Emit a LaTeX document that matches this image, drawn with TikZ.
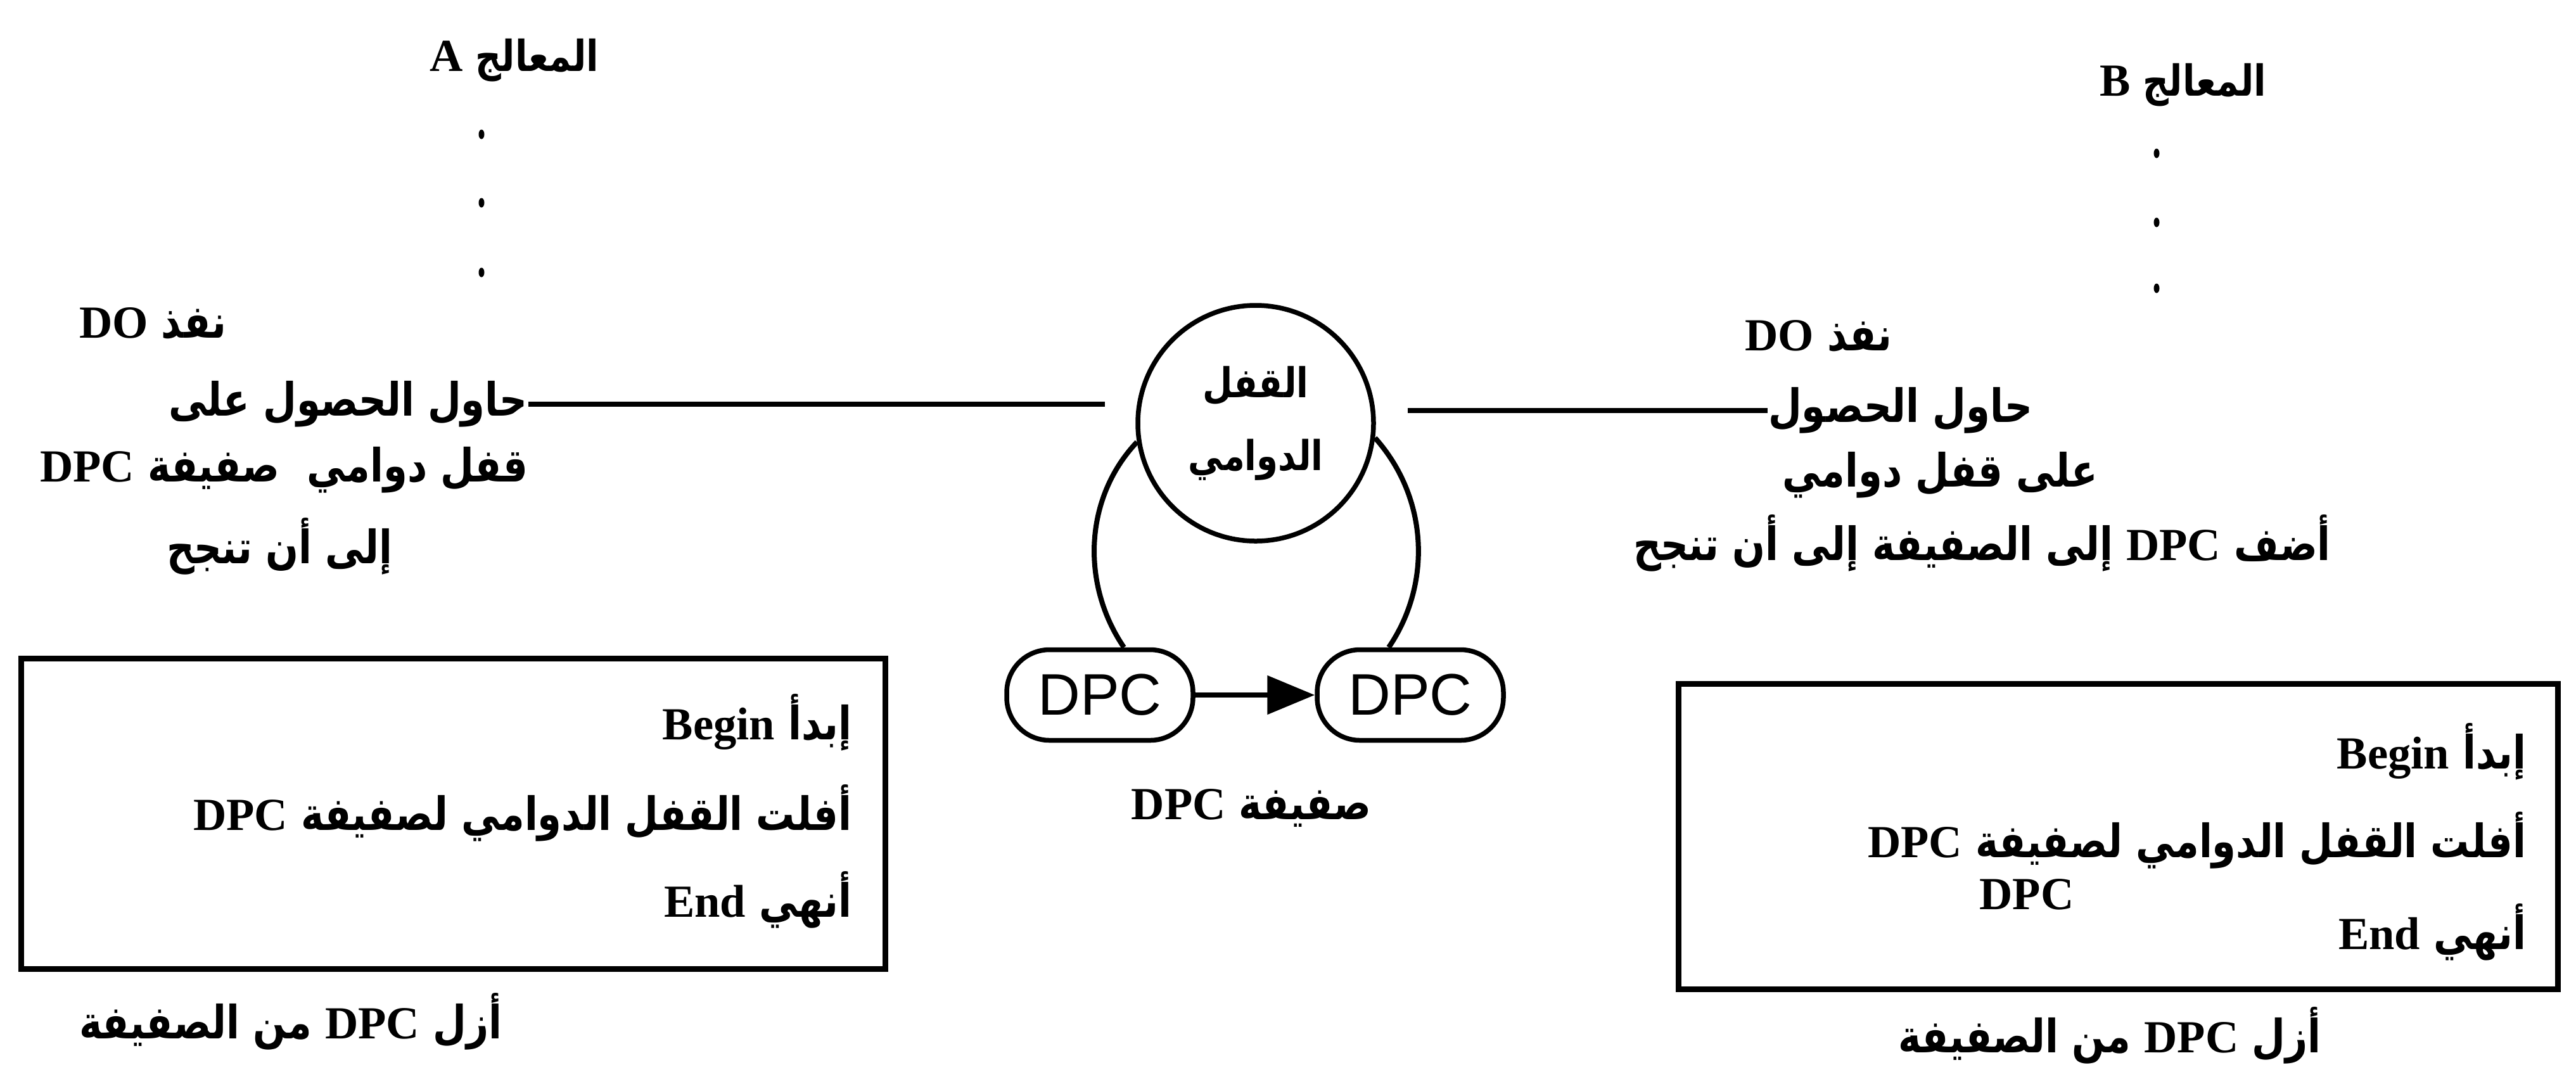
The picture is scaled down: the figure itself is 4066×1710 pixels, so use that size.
\documentclass[tikz,border=0pt]{standalone}
\usepackage{fontspec}
\usetikzlibrary{arrows.meta,shapes.geometric}

\newfontfamily\arabicfont[Script=Arabic,FakeStretch=0.84]{DejaVu Sans}
\newfontfamily\latinfont{Liberation Serif}
\newfontfamily\dpcfont{Liberation Sans}
\TeXXeTstate=1

\newcommand{\rtl}[1]{\beginR #1\endR}
\newcommand{\lat}[1]{{\latinfont\fontsize{14.5}{17}\selectfont #1}}

\tikzset{
	txt/.style={inner sep=0pt, font=\arabicfont\bfseries\fontsize{14.5}{17}\selectfont},
	head/.style={inner sep=0pt, font=\arabicfont\bfseries\fontsize{13.5}{15}\selectfont},
	dotmark/.style={ellipse, fill=black, inner sep=0pt, minimum width=1.8pt, minimum height=3pt},
	link/.style={line width=1.6pt},
	lockcirc/.style={draw, circle, line width=1.5pt, minimum size=74.4pt, inner sep=0pt, align=center,
		font=\arabicfont\bfseries\fontsize{13}{23}\selectfont},
	dpcbox/.style={draw, rounded corners=13.5pt, line width=1.5pt, minimum width=58.8pt, minimum height=28.6pt,
		inner sep=0pt, font=\dpcfont\fontsize{18.5}{20}\selectfont},
	codebox/.style={draw, line width=1.8pt, inner sep=0pt, anchor=north west}
}

\begin{document}
\begin{tikzpicture}[x=0.2pt,y=0.2pt,yscale=-1,xscale=1]

	\useasboundingbox (0,0) rectangle (4066,1710);

	%%PROCESSOR A---------------------------------------------
	\node[head] (procA) at (812,95) {\rtl{المعالج {\fontsize{12.5}{15}\lat{A}}}};
	\node[dotmark] (dotA1) at (760,212) {};
	\node[dotmark] (dotA2) at (760,320) {};
	\node[dotmark] (dotA3) at (760,430) {};

	%% do loop text
	\node[txt, anchor=west] (doA) at (124,510) {\rtl{نفذ \lat{DO}}};
	\node[txt, anchor=west] (tryA) at (265,638) {\rtl{حاول الحصول على}};
	\node[txt, anchor=west] (spinA) at (62,742) {\rtl{قفل دوامي\hspace{0.6em}صفيفة \lat{DPC}}};
	\node[txt, anchor=west] (untilA) at (262,862) {\rtl{إلى أن تنجح}};

	%% routine box
	\node[codebox, minimum width=272.8pt, minimum height=98pt] (boxA) at (29,1035) {};
	\node[txt, anchor=east] (beginA) at (1345,1140) {\rtl{إبدأ \lat{Begin}}};
	\node[txt, anchor=east] (releaseA) at (1345,1283) {\rtl{أفلت القفل الدوامي لصفيفة \lat{DPC}}};
	\node[txt, anchor=east] (endA) at (1345,1420) {\rtl{أنهي \lat{End}}};
	\node[txt, anchor=west] (removeA) at (124,1612) {\rtl{أزل \lat{DPC} من الصفيفة}};

	%%SPIN LOCK AND QUEUE-------------------------------------
	\node[lockcirc] (lock) at (1982,668) {\rtl{القفل}\\\rtl{الدوامي}};
	\node[dpcbox] (dpcL) at (1736,1097) {DPC};
	\node[dpcbox] (dpcR) at (2226,1097) {DPC};
	\node[txt] (queue) at (1975,1275) {\rtl{صفيفة \lat{DPC}}};

	%% loop from lock to queue
	\draw[link] (lock.189) .. controls (1711,786) and (1706,922) .. ([xshift=7.6pt]dpcL.north);
	\draw[link] (lock.353) .. controls (2255,786) and (2260,922) .. ([xshift=-6.8pt]dpcR.north);
	\draw[link, -{Triangle[length=15pt,width=12pt]}] (dpcL.east) -- (dpcR.west);

	%%PROCESSOR B---------------------------------------------
	\node[head] (procB) at (3446,134) {\rtl{المعالج {\fontsize{12.5}{15}\lat{B}}}};
	\node[dotmark] (dotB1) at (3404,242) {};
	\node[dotmark] (dotB2) at (3404,351) {};
	\node[dotmark] (dotB3) at (3404,455) {};

	%% do loop text
	\node[txt] (doB) at (2870,530) {\rtl{نفذ \lat{DO}}};
	\node[txt, anchor=west] (tryB) at (2790,648) {\rtl{حاول الحصول}};
	\node[txt] (spinB) at (3062,750) {\rtl{على قفل دوامي}};
	\node[txt, anchor=west] (addB) at (2577,857) {\rtl{أضف \lat{DPC} إلى الصفيفة إلى أن تنجح}};

	%% routine box
	\node[codebox, minimum width=277.6pt, minimum height=96.4pt] (boxB) at (2645,1075) {};
	\node[txt, anchor=east] (beginB) at (3988,1186) {\rtl{إبدأ \lat{Begin}}};
	\node[txt, anchor=east] (releaseB) at (3988,1326) {\rtl{أفلت القفل الدوامي لصفيفة \lat{DPC}}};
	\node[txt] (dpcB) at (3199,1412) {\lat{DPC}};
	\node[txt, anchor=east] (endB) at (3988,1471) {\rtl{أنهي \lat{End}}};
	\node[txt] (removeB) at (3330,1634) {\rtl{أزل \lat{DPC} من الصفيفة}};

	%%LINES TO THE LOCK---------------------------------------
	\draw[link, shorten >=9.6pt] (tryA.east) -- (tryA.east -| lock.west);
	\draw[link, shorten >=10pt] (tryB.west) -- (tryB.west -| lock.east);

\end{tikzpicture}
\end{document}
